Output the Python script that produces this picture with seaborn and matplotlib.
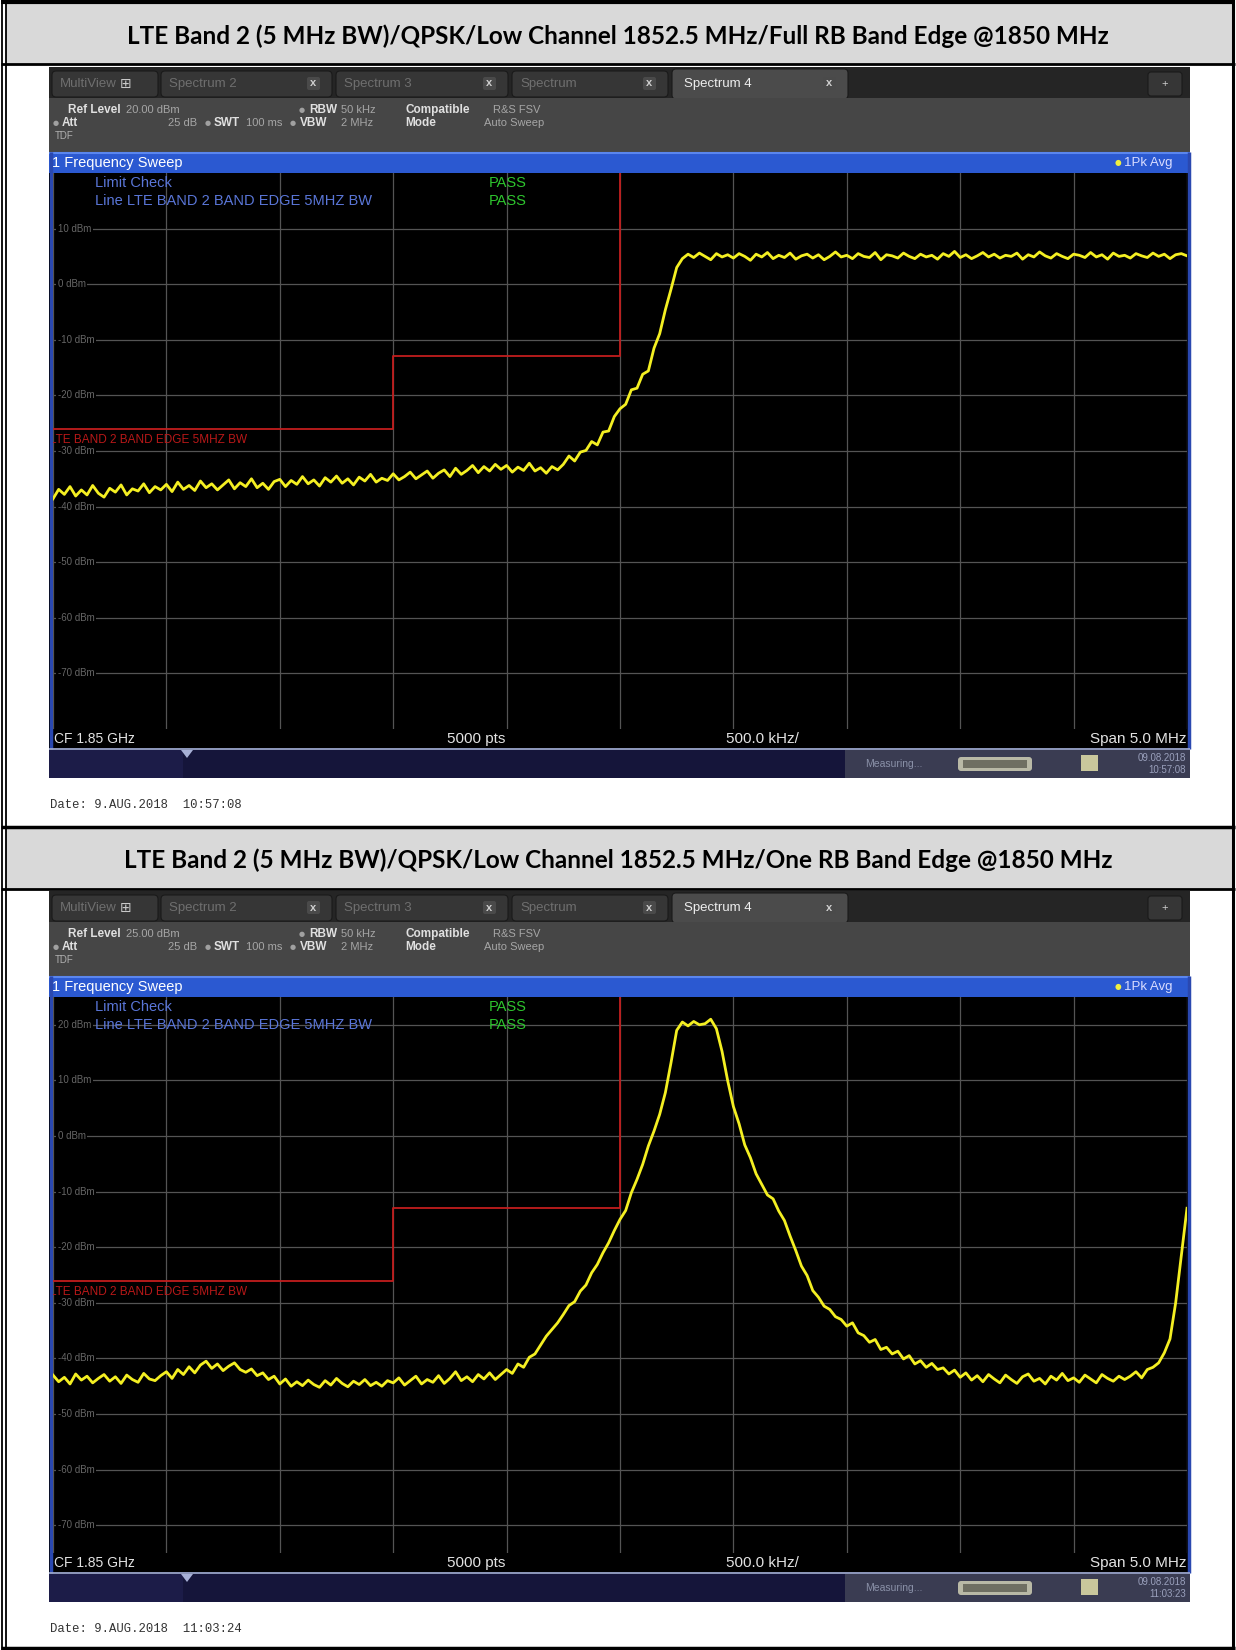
import numpy as np
import pandas as pd
import seaborn as sns
import matplotlib.pyplot as plt
from matplotlib.patches import Rectangle, FancyBboxPatch, Polygon

# ---- chart data ----
titles = ['LTE Band 2 (5 MHz BW)/QPSK/Low Channel 1852.5 MHz/Full RB Band Edge @1850 MHz',
          'LTE Band 2 (5 MHz BW)/QPSK/Low Channel 1852.5 MHz/One RB Band Edge @1850 MHz']
dates = ['Date: 9.AUG.2018  10:57:08', 'Date: 9.AUG.2018  11:03:24']
clocks = [('09.08.2018', '10:57:08'), ('09.08.2018', '11:03:23')]
ref_levels = [20.0, 25.0]
level_labels = [[10, 0, -10, -20, -30, -40, -50, -60, -70],
                [20, 10, 0, -10, -20, -30, -40, -50, -60, -70]]
center_mhz = 1850.0
span_mhz = 5.0
limit_name = 'LTE BAND 2 BAND EDGE 5MHZ BW'
limit_freq = [1847.5, 1849.0, 1849.0, 1850.0, 1850.0]
limit_dbm = [-26, -26, -13, -13, 30]

# Full RB trace, dBm
full_rb = [
    -38.6, -36.9, -37.8, -36.4, -38.1, -37.0, -37.9, -36.2, -37.6, -38.3,
    -36.7, -37.4, -36.1, -37.9, -36.8, -37.2, -35.9, -37.5, -36.4, -37.0,
    -36.0, -37.3, -35.6, -36.9, -36.2, -37.1, -35.4, -36.6, -35.9, -37.0,
    -36.1, -35.2, -36.8, -35.7, -36.4, -35.0, -36.6, -35.8, -36.9, -35.5,
    -35.1, -36.4, -35.3, -36.0, -34.6, -35.9, -35.2, -36.3, -34.8, -35.6,
    -34.5, -35.8, -35.0, -36.1, -34.7, -35.4, -34.2, -35.6, -34.9, -35.3,
    -34.1, -35.2, -34.6, -33.8, -35.0, -34.3, -33.6, -34.9, -34.0, -33.4,
    -34.6, -33.1, -34.2, -33.5, -32.6, -33.9, -32.8, -33.6, -32.4, -33.3,
    -32.6, -33.8, -32.9, -33.5, -32.2, -33.6, -33.0, -34.0, -32.8, -33.4,
    -32.4, -30.9, -31.8, -30.2, -29.9, -28.3, -28.9, -26.6, -26.4, -23.8,
    -22.4, -21.6, -19.0, -18.7, -16.2, -15.6, -11.5, -8.9, -4.6, -0.9,
    3.0, 4.6, 5.4, 4.8, 5.6, 5.0, 4.4, 5.5, 4.9, 5.3,
    4.7, 5.5, 5.0, 4.3, 5.4, 4.9, 5.7, 4.6, 5.2, 4.8,
    5.6, 4.5, 5.1, 5.4, 4.7, 5.3, 4.4, 5.0, 5.8, 4.9,
    5.2, 4.6, 5.5, 5.0, 4.8, 5.7, 4.4, 5.3, 5.1, 4.7,
    5.6, 5.0, 4.6, 5.4, 4.9, 5.2, 4.5, 5.5, 5.0, 5.9,
    4.8, 5.3, 4.6, 5.1, 5.7, 4.9, 5.4, 4.7, 5.2, 5.0,
    5.6, 4.5, 5.3, 4.9, 5.8, 5.1, 4.7, 5.5, 5.0, 4.6,
    5.4, 5.2, 4.8, 5.7, 4.9, 5.3, 4.5, 5.6, 5.0, 5.2,
    4.7, 5.5, 5.1, 4.8, 5.6, 5.0, 5.4, 4.6, 5.3, 5.5, 5.1]

# One RB trace, dBm
one_rb = [
    -43.0, -44.2, -43.4, -44.6, -42.8, -43.9, -43.2, -44.4, -43.6, -42.9,
    -44.1, -43.3, -44.5, -43.0, -43.8, -44.3, -42.7, -43.7, -44.0, -43.1,
    -42.4, -43.6, -42.0, -42.9, -41.5, -42.6, -41.2, -40.5, -41.8, -41.0,
    -42.2, -41.4, -40.8, -42.0, -42.5, -41.9, -43.1, -42.6, -43.8, -43.2,
    -44.6, -43.7, -45.0, -44.2, -44.9, -43.9, -44.7, -45.2, -44.0, -44.8,
    -43.6, -44.5, -45.1, -44.1, -44.7, -43.8, -44.9, -44.3, -45.0, -44.0,
    -44.4, -43.5, -44.8, -44.0, -43.2, -44.6, -43.8, -44.3, -43.1, -44.5,
    -43.6, -42.4, -44.0, -43.3, -44.2, -42.9, -43.7, -42.6, -43.8, -42.9,
    -42.0, -42.7, -41.0, -41.6, -39.8, -39.2, -37.6, -36.0, -34.8, -33.6,
    -32.1, -30.5, -29.8, -27.9, -26.8, -24.6, -23.1, -21.0, -19.2, -17.0,
    -15.0, -13.4, -10.2, -7.8, -5.1, -1.8, 0.9, 3.9, 7.8, 13.2,
    19.0, 20.5, 19.8, 20.6, 20.0, 20.2, 21.0, 19.3, 15.2, 9.9,
    5.3, 2.2, -1.6, -3.9, -6.8, -8.7, -10.6, -11.3, -13.5, -15.2,
    -18.0, -20.6, -23.4, -25.1, -27.8, -29.0, -30.6, -31.2, -32.5, -33.0,
    -34.2, -33.6, -35.4, -35.9, -37.1, -36.6, -38.4, -38.0, -39.2, -38.7,
    -40.1, -39.5, -41.0, -40.4, -41.6, -40.9, -42.0, -41.7, -42.8, -42.1,
    -43.4, -42.6, -43.9, -43.1, -44.2, -42.9, -43.7, -44.4, -43.0, -43.8,
    -44.5, -43.3, -42.8, -44.1, -43.6, -44.6, -43.2, -43.9, -42.7, -44.0,
    -43.5, -44.3, -43.0, -43.7, -44.4, -42.9, -43.6, -44.1, -43.2, -43.8,
    -43.2, -42.4, -43.5, -42.0, -41.6, -40.8, -39.0, -36.5, -30.0, -21.5, -13.0]

traces = [full_rb, one_rb]

# ---- figure in pixel units ----
W, H = 1236, 1650
fig = plt.figure(figsize=(W / 100, H / 100), dpi=100)
fig.patch.set_facecolor('white')
canvas = fig.add_axes([0, 0, 1, 1])
canvas.axis('off')

UI = 'Liberation Sans'


def box(x, y, w, h, fc, ec='none', lw=0, r=0):
    if r:
        p = FancyBboxPatch((x, y), w, h, boxstyle=f'round,pad=0,rounding_size={r}',
                           fc=fc, ec=ec, lw=lw)
    else:
        p = Rectangle((x, y), w, h, fc=fc, ec=ec, lw=lw)
    canvas.add_patch(p)


def txt(x, y, s, size=7.5, color='#cccccc', **kw):
    kw.setdefault('va', 'center')
    kw.setdefault('family', UI)
    fig.text(x / W, 1 - y / H, s, fontsize=size, color=color, **kw)


def hline(x0, x1, y, **kw):
    canvas.plot([x0, x1], [y, y], solid_capstyle='butt', **kw)


def vline(x, y0, y1, **kw):
    canvas.plot([x, x], [y0, y1], solid_capstyle='butt', **kw)


# title bands
for (top, bot), title in zip([(4, 64), (828, 889)], titles):
    box(6, top, 1227, bot - top, '#d9d9d9')
    txt(618, (top + bot) / 2 + 2, title, size=17.5, color='black',
        family='Lato', weight='bold', ha='center')

# table rules
for yy, lw in [(2, 3), (64, 2), (827, 2.5), (889, 2), (1648, 2.5)]:
    hline(1, 1235, yy, color='black', lw=lw)
vline(2, 0, H, color='black', lw=1.3)
vline(6, 0, H, color='black', lw=1.3)
vline(1233, 0, H, color='black', lw=2.2)


def draw_panel(y0, idx):
    ref = ref_levels[idx]
    X0, X1 = 49, 1190
    box(X0, y0, X1 - X0, 711, '#000000')

    # tab bar
    box(X0, y0, X1 - X0, 31, '#252525')
    tabs = [(52, 158, 'MultiView'), (161, 332, 'Spectrum 2'), (336, 508, 'Spectrum 3'),
            (512, 668, 'Spectrum'), (672, 848, 'Spectrum 4')]
    for k, (a, b, name) in enumerate(tabs):
        active = k == len(tabs) - 1
        box(a, y0 + (2 if active else 4), b - a, 30 if active else 26,
            '#4b4b4b' if active else '#363636', ec='#1a1a1a', lw=0.8, r=4)
        txt(a + (12 if active else 8), y0 + 17, name, size=9.5,
            color='#eeeeee' if active else '#6f6f6f')
        if k == 0:
            txt(120, y0 + 17, '\u229e', size=10, color='#c8c8c8', family='DejaVu Sans')
        else:
            box(b - 25, y0 + 10, 13, 13, '#4a4a4a', r=2)
            txt(b - 18.5, y0 + 16.5, 'x', size=8, color='#d0d0d0', ha='center', weight='bold')
    box(1148, y0 + 5, 34, 24, '#363636', ec='#1a1a1a', lw=0.8, r=3)
    txt(1165, y0 + 17, '+', size=8, color='#cfcfcf', ha='center')

    # setting area
    box(X0, y0 + 31, X1 - X0, 54, '#464646')
    bold = dict(weight='bold', color='#e0e0e0', size=8.5)
    dim = dict(color='#a6a6a6', size=8)
    r1, r2 = y0 + 43, y0 + 56
    txt(68, r1, 'Ref Level', **bold)
    txt(126, r1, f'{ref:.2f} dBm', **dim)
    txt(299, r1, '\u25cf', color='#a0a0a0', size=5, family='DejaVu Sans')
    txt(309, r1, 'RBW', **bold)
    txt(341, r1, '50 kHz', **dim)
    txt(405, r1, 'Compatible', **bold)
    txt(493, r1, 'R&S FSV', **dim)
    txt(53, r2, '\u25cf', color='#a0a0a0', size=5, family='DejaVu Sans')
    txt(62, r2, 'Att', **bold)
    txt(168, r2, '25 dB', **dim)
    txt(205, r2, '\u25cf', color='#a0a0a0', size=5, family='DejaVu Sans')
    txt(214, r2, 'SWT', **bold)
    txt(246, r2, '100 ms', **dim)
    txt(290, r2, '\u25cf', color='#a0a0a0', size=5, family='DejaVu Sans')
    txt(300, r2, 'VBW', **bold)
    txt(341, r2, '2 MHz', **dim)
    txt(405, r2, 'Mode', **bold)
    txt(484, r2, 'Auto Sweep', **dim)
    txt(55, y0 + 69, 'TDF', color='#b0b0b0', size=7)

    # blue header bar
    box(X0, y0 + 85, X1 - X0, 21, '#2b59d1')
    hline(X0, X1, y0 + 86, color='#5a86ee', lw=1.5)
    txt(52, y0 + 96, '1 Frequency Sweep', color='white', size=10.5)
    txt(1115, y0 + 96, '\u25cf', color='#f0f040', size=5.5, family='DejaVu Sans')
    txt(1124, y0 + 96, '1Pk Avg', color='#d8dcff', size=9.5)

    # frame sides
    vline(51, y0 + 85, y0 + 682, color='#2a48b0', lw=2.5)
    vline(1188.5, y0 + 85, y0 + 682, color='#2a48b0', lw=2.5)

    # trace axes
    ax = fig.add_axes([53 / W, 1 - (y0 + 662) / H, 1134 / W, 556 / H])
    ax.set_facecolor('black')
    f0, f1 = center_mhz - span_mhz / 2, center_mhz + span_mhz / 2
    ax.set_xlim(f0, f1)
    ax.set_ylim(ref - 100, ref)
    ax.set_xticks(np.arange(f0, f1 + 0.01, span_mhz / 10))
    ax.set_yticks(level_labels[idx])
    ax.tick_params(length=0, labelbottom=False, labelleft=False)
    ax.grid(True, color='#545454', lw=0.9)
    ax.set_axisbelow(True)
    for s in ax.spines.values():
        s.set_visible(False)

    for lv in level_labels[idx]:
        ax.text(0.004, lv, f'{lv} dBm', transform=ax.get_yaxis_transform(),
                color='#666666', fontsize=7, family=UI, va='center', ha='left',
                bbox=dict(fc='black', ec='none', pad=1.2))

    lim = pd.DataFrame({'freq': limit_freq, 'dbm': limit_dbm})
    sns.lineplot(data=lim, x='freq', y='dbm', ax=ax, color='#c21d1d', lw=1.3,
                 estimator=None, sort=False)
    ax.text(f0 - 0.012, limit_dbm[0] - 1.0, limit_name, color='#b81818', fontsize=8.5,
            family=UI, va='top', ha='left', clip_on=True)

    tr = traces[idx]
    df = pd.DataFrame({'freq': np.linspace(f0, f1, len(tr)), 'dbm': tr})
    sns.lineplot(data=df, x='freq', y='dbm', ax=ax, color='#f4ef22', lw=2.0,
                 estimator=None, sort=False)
    ax.set_xlim(f0, f1)
    ax.set_ylim(ref - 100, ref)
    ax.set_xlabel('')
    ax.set_ylabel('')

    # limit check legend
    txt(95, y0 + 116, 'Limit Check', color='#5a76d8', size=10.5)
    txt(95, y0 + 134, 'Line ' + limit_name, color='#5a76d8', size=10.5)
    txt(489, y0 + 116, 'PASS', color='#2ec52e', size=10.5)
    txt(489, y0 + 134, 'PASS', color='#2ec52e', size=10.5)

    # footer line of the diagram
    fy = y0 + 672
    txt(54, fy, f'CF {center_mhz / 1000:.2f} GHz', color='#e2e2e2', size=10)
    txt(447, fy, '5000 pts', color='#e2e2e2', size=11)
    txt(726, fy, f'{span_mhz / 10 * 1000:.1f} kHz/', color='#e2e2e2', size=11)
    txt(1186, fy, f'Span {span_mhz:.1f} MHz', color='#e2e2e2', size=11, ha='right')

    # status bar
    box(X0, y0 + 683, X1 - X0, 28, '#15153a')
    box(X0, y0 + 683, 134, 28, '#1c1c48')
    hline(X0, X1, y0 + 682, color='#9ba6cc', lw=1.3)
    canvas.add_patch(Polygon([[181, y0 + 683], [193, y0 + 683], [187, y0 + 691]],
                             closed=True, fc='#a7b0d6', ec='none'))
    box(845, y0 + 683, X1 - 845, 28, '#3a3c52')
    txt(865, y0 + 697, 'Measuring...', color='#8a91a8', size=7.5)
    box(958, y0 + 690, 74, 14, '#b9b9a6', r=3)
    box(963, y0 + 693, 64, 8, '#6f6f62')
    box(1081, y0 + 688, 17, 16, '#c9c79c')
    txt(1186, y0 + 691, clocks[idx][0], color='#9aa0bc', size=7, ha='right')
    txt(1186, y0 + 703, clocks[idx][1], color='#9aa0bc', size=7, ha='right')

    # date stamp
    txt(50, y0 + 738, dates[idx], color='#333333', size=8.8, family='Liberation Mono')


draw_panel(67, 0)
draw_panel(891, 1)

canvas.set_xlim(0, W)
canvas.set_ylim(H, 0)

fig.savefig('out.png', dpi=100, facecolor='white')
